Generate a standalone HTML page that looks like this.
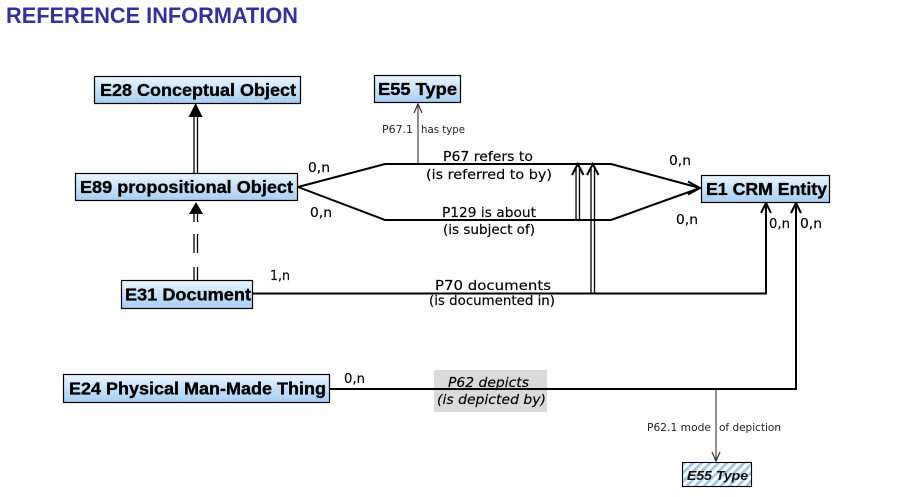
<!DOCTYPE html>
<html>
<head>
<meta charset="utf-8">
<style>
  html,body{margin:0;padding:0;background:#fff;}
  body{width:910px;height:497px;overflow:hidden;}
  svg{display:block;}
  .box{font-family:"Liberation Sans",Arial,sans-serif;font-weight:bold;font-size:17.5px;fill:#000;stroke:#000;stroke-width:0.35px;}
  .lbl{font-family:"DejaVu Sans","Liberation Sans",sans-serif;font-size:13px;fill:#000;stroke:#000;stroke-width:0.15px;}
  .card{font-family:"DejaVu Sans","Liberation Sans",sans-serif;font-size:13px;fill:#000;stroke:#000;stroke-width:0.15px;}
  .small{font-family:"DejaVu Sans","Liberation Sans",sans-serif;font-size:11px;fill:#222;}
</style>
</head>
<body>
<svg width="910" height="497" viewBox="0 0 910 497" xmlns="http://www.w3.org/2000/svg">
  <defs>
    <linearGradient id="g" x1="0" y1="0" x2="0" y2="1">
      <stop offset="0" stop-color="#eaf5ff"/>
      <stop offset="1" stop-color="#a6cdf1"/>
    </linearGradient>
    <pattern id="hatch" width="6" height="6" patternUnits="userSpaceOnUse" patternTransform="rotate(45)">
      <rect width="6" height="6" fill="#ffffff"/>
      <rect width="2.8" height="6" fill="#9dc9ee"/>
    </pattern>
  </defs>

  <!-- Title -->
  <text x="6" y="23" font-family="Liberation Sans, Arial, sans-serif" font-weight="bold" font-size="22" fill="#333399" textLength="292" lengthAdjust="spacingAndGlyphs">REFERENCE INFORMATION</text>

  <!-- E89 -> E28 double line with arrow -->
  <line x1="194" y1="173" x2="194" y2="116" stroke="#000" stroke-width="1.3"/>
  <line x1="197.5" y1="173" x2="197.5" y2="116" stroke="#000" stroke-width="1.3"/>
  <polygon points="188.5,117 202.5,117 195.7,103" fill="#000"/>

  <!-- E31 -> E89 dashed double line with arrow -->
  <g stroke="#000" stroke-width="1.3">
    <line x1="194" y1="213" x2="194" y2="222"/>
    <line x1="197.5" y1="213" x2="197.5" y2="222"/>
    <line x1="194" y1="234" x2="194" y2="253"/>
    <line x1="197.5" y1="234" x2="197.5" y2="253"/>
    <line x1="194" y1="267" x2="194" y2="280"/>
    <line x1="197.5" y1="267" x2="197.5" y2="280"/>
  </g>
  <polygon points="189,214 203,214 196,202" fill="#000"/>

  <!-- P67 / P129 hexagon lines -->
  <polyline points="298,187 385,164 611,164 700,188" fill="none" stroke="#000" stroke-width="2"/>
  <polyline points="298,187 385,220 611,220 700,188" fill="none" stroke="#000" stroke-width="2"/>
  <polyline points="688,181.5 700,188 688,194.5" fill="none" stroke="#000" stroke-width="2"/>

  <!-- P67.1 has type -->
  <line x1="418" y1="164" x2="418" y2="104" stroke="#333" stroke-width="1.1"/>
  <polyline points="414,113 418,104 422,113" fill="none" stroke="#333" stroke-width="1.2"/>
  <text class="small" x="382" y="133" textLength="31" lengthAdjust="spacingAndGlyphs">P67.1</text>
  <text class="small" x="421" y="133" textLength="44" lengthAdjust="spacingAndGlyphs">has type</text>

  <!-- double arrows up to P67 line -->
  <g stroke="#000" stroke-width="1.3">
    <line x1="576" y1="220" x2="576" y2="168"/>
    <line x1="579.5" y1="220" x2="579.5" y2="168"/>
    <line x1="591" y1="293" x2="591" y2="168"/>
    <line x1="594.5" y1="293" x2="594.5" y2="168"/>
  </g>
  <polyline points="572,175 577.8,164 583.5,175" fill="none" stroke="#000" stroke-width="2"/>
  <polyline points="587,175 592.8,164 598.5,175" fill="none" stroke="#000" stroke-width="2"/>

  <!-- P70 documents -->
  <polyline points="253,293.5 766,293.5 766,204" fill="none" stroke="#000" stroke-width="2"/>
  <polyline points="761,213 766,203 771,213" fill="none" stroke="#000" stroke-width="2"/>

  <!-- P62 grey label box -->
  <rect x="434" y="370" width="113" height="42" fill="#dadada"/>
  <!-- P62 depicts -->
  <polyline points="330,389 796,389 796,204" fill="none" stroke="#000" stroke-width="2"/>
  <polyline points="791,213 796,203 801,213" fill="none" stroke="#000" stroke-width="2"/>

  <!-- P62.1 -->
  <line x1="716" y1="389" x2="716" y2="461" stroke="#333" stroke-width="1.1"/>
  <polyline points="712,452 716,461 720,452" fill="none" stroke="#333" stroke-width="1.2"/>
  <text class="small" x="647" y="431" textLength="64" lengthAdjust="spacingAndGlyphs">P62.1 mode</text>
  <text class="small" x="719" y="431" textLength="62" lengthAdjust="spacingAndGlyphs">of depiction</text>

  <!-- Connector labels -->
  <text class="lbl" x="443" y="161" textLength="90" lengthAdjust="spacingAndGlyphs">P67 refers to</text>
  <text class="lbl" x="426" y="179" textLength="126" lengthAdjust="spacingAndGlyphs">(is referred to by)</text>
  <text class="lbl" x="442" y="217" textLength="94" lengthAdjust="spacingAndGlyphs">P129 is about</text>
  <text class="lbl" x="443" y="234" textLength="92" lengthAdjust="spacingAndGlyphs">(is subject of)</text>
  <text class="lbl" x="435" y="290" textLength="116" lengthAdjust="spacingAndGlyphs">P70 documents</text>
  <text class="lbl" x="429" y="305" textLength="126" lengthAdjust="spacingAndGlyphs">(is documented in)</text>
  <text class="lbl" x="448" y="387" font-style="italic" textLength="81" lengthAdjust="spacingAndGlyphs">P62 depicts</text>
  <text class="lbl" x="437" y="404" font-style="italic" textLength="109" lengthAdjust="spacingAndGlyphs">(is depicted by)</text>

  <!-- Cardinalities -->
  <text class="card" x="308" y="172" textLength="22" lengthAdjust="spacingAndGlyphs">0,n</text>
  <text class="card" x="310" y="217" textLength="22" lengthAdjust="spacingAndGlyphs">0,n</text>
  <text class="card" x="669" y="165" textLength="22" lengthAdjust="spacingAndGlyphs">0,n</text>
  <text class="card" x="676" y="224" textLength="22" lengthAdjust="spacingAndGlyphs">0,n</text>
  <text class="card" x="769" y="228" textLength="21" lengthAdjust="spacingAndGlyphs">0,n</text>
  <text class="card" x="800" y="228" textLength="22" lengthAdjust="spacingAndGlyphs">0,n</text>
  <text class="card" x="270" y="280" textLength="20" lengthAdjust="spacingAndGlyphs">1,n</text>
  <text class="card" x="344" y="383" textLength="21" lengthAdjust="spacingAndGlyphs">0,n</text>

  <!-- Boxes -->
  <rect x="94.5" y="76.5" width="206" height="27" fill="url(#g)" stroke="#000" stroke-width="1.2"/>
  <text class="box" x="100" y="96" textLength="196" lengthAdjust="spacingAndGlyphs">E28 Conceptual Object</text>

  <rect x="374.5" y="75.5" width="86" height="27" fill="url(#g)" stroke="#000" stroke-width="1.2"/>
  <text class="box" x="378" y="95" textLength="79" lengthAdjust="spacingAndGlyphs">E55 Type</text>

  <rect x="75.5" y="173.5" width="222" height="27" fill="url(#g)" stroke="#000" stroke-width="1.2"/>
  <text class="box" x="80" y="193" textLength="213" lengthAdjust="spacingAndGlyphs">E89 propositional Object</text>

  <rect x="701.5" y="175.5" width="128" height="27" fill="url(#g)" stroke="#000" stroke-width="1.2"/>
  <text class="box" x="706" y="195" textLength="121" lengthAdjust="spacingAndGlyphs">E1 CRM Entity</text>

  <rect x="121.5" y="280.5" width="131" height="28" fill="url(#g)" stroke="#000" stroke-width="1.2"/>
  <text class="box" x="125" y="300.5" textLength="126" lengthAdjust="spacingAndGlyphs">E31 Document</text>

  <rect x="63.5" y="374.5" width="266" height="28" fill="url(#g)" stroke="#000" stroke-width="1.2"/>
  <text class="box" x="69" y="394.5" textLength="257" lengthAdjust="spacingAndGlyphs">E24 Physical Man-Made Thing</text>

  <rect x="682.5" y="462.5" width="69" height="24" fill="url(#hatch)" stroke="#000" stroke-width="1.1"/>
  <text x="687" y="480" font-family="Liberation Sans, Arial, sans-serif" font-weight="bold" font-style="italic" font-size="13" fill="#111" textLength="61" lengthAdjust="spacingAndGlyphs">E55 Type</text>
</svg>
</body>
</html>
